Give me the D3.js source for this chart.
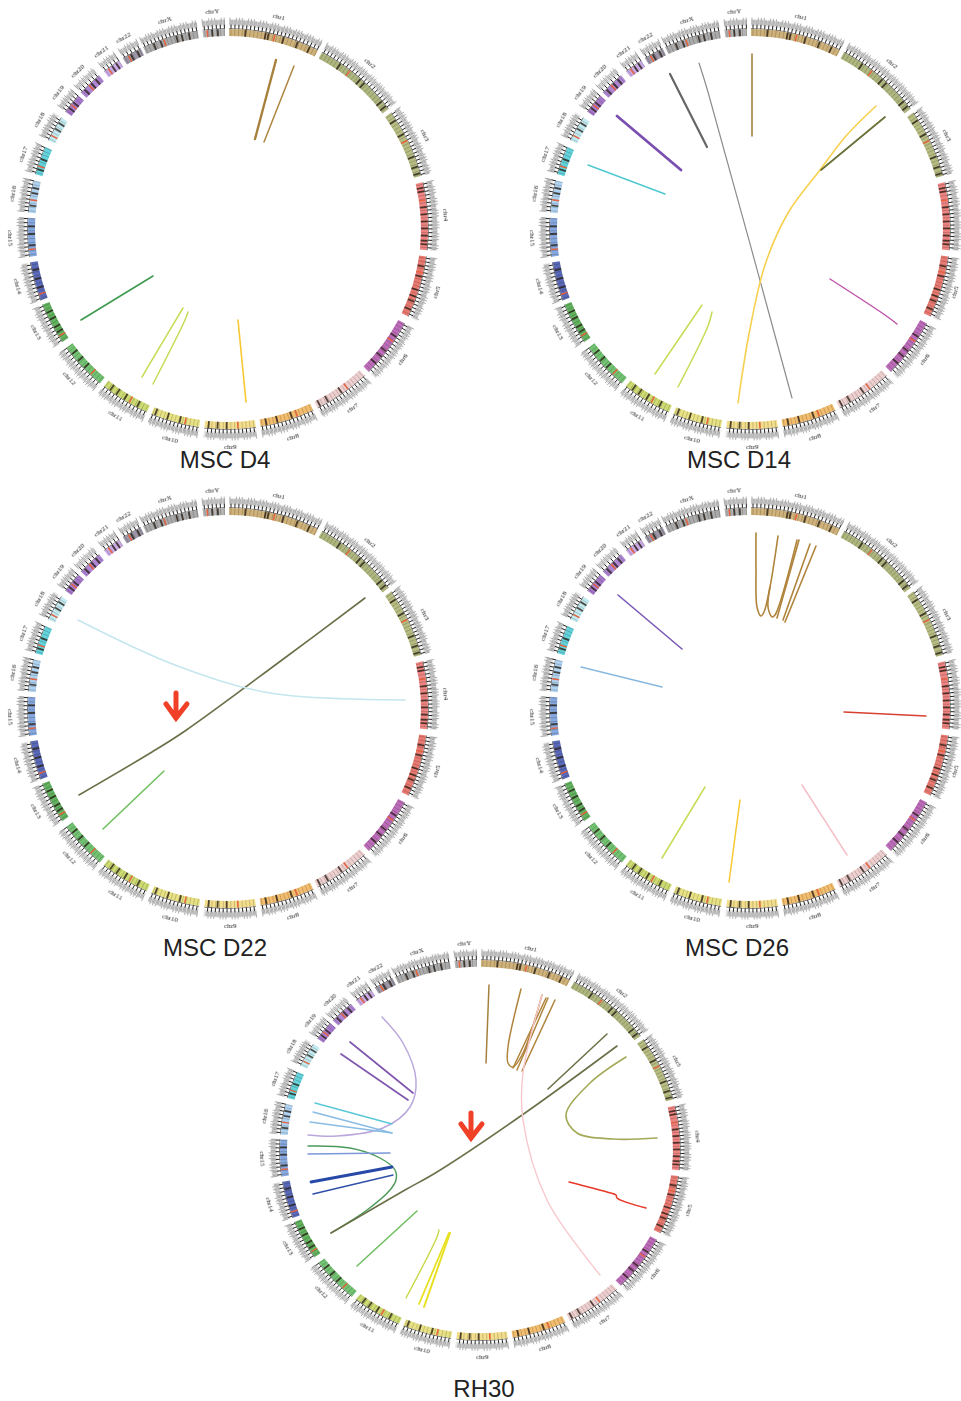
<!DOCTYPE html>
<html>
<head>
<meta charset="utf-8">
<script src="https://cdn.jsdelivr.net/npm/d3@7"></script>
<style>
  body { margin: 0; background: #fff; }
  .chr-label { font-family: "Liberation Serif", serif; font-size: 7px; fill: #222; text-anchor: middle; dominant-baseline: middle; }
  .title { font-family: "Liberation Sans", Arial, sans-serif; font-size: 24px; fill: #222; text-anchor: middle; }
  .link { fill: none; stroke-linecap: round; stroke-linejoin: round; }
</style>
</head>
<body>
<svg id="svg1" width="961" height="1401"></svg>
<script>
const svg1 = d3.select('#svg1');
const width = +svg1.attr('width');

// chromosomes: name, size in Mb, centromere in Mb
const chrNames = ['chr1','chr2','chr3','chr4','chr5','chr6','chr7','chr8','chr9','chr10','chr11','chr12','chr13','chr14','chr15','chr16','chr17','chr18','chr19','chr20','chr21','chr22','chrX','chrY'];
const chrSizes = [249,243,198,191,181,171,159,146,141,135,135,133,115,107,102,90,81,78,59,63,48,51,155,59];
const chrCentro = [125,93,91,50,48,61,60,45,49,40,54,35,18,17,19,36,24,17,26,28,13,15,60,12];
// where each chromosome starts and ends on the circle, degrees clockwise from the top
const chrStartDeg = [0.3,28,54.5,76.5,97.9,118.1,137,154.8,172,188.3,203.9,219.7,235.7,249.1,262,274.7,285.9,296.3,305.8,312.8,321.8,328.4,335,352.7];
const chrEndDeg = [26.7,53.2,74.6,96.1,115.9,135.4,153.4,170.6,186.8,202.5,218.3,233.7,247.8,260.4,273.2,284,294.2,303.8,311.7,320,327.1,334.2,351.3,359.1];
// dark cytobands, Mb
const chrDark = [[45,100,108,150,190,225],[60,130,145,215,232],[25,70,140,170,190],[15,25,70,90,110,130,150,165,175],[30,60,100,120,135,160],[45,95,115,140],[80,125,150],[60,100,130],[80,105,130],[55,90,125],[30,70,95,115],[60,85,110],[30,45,70,90],[35,60,85],[30,60,80],[20,55,70],[15,45],[40,60],[15,35],[12,35,50],[25,38],[22,40],[30,50,95,110,130],[25,40]];

const chrColours = ['#cfb27a','#aeb67e','#b6bc82','#ee8482','#e87a72','#bc6cb8','#eecfcf','#f2bd6e','#f3de8c','#e8e284','#cddb72','#72c272','#62b260','#5a6ab8','#86a8de','#aed2f0','#64d2da','#c2eaf0','#a678ca','#ae86d4','#caaae4','#9c96a6','#ababab','#b4b4b4'];
const ideogramTick = 10.5; // Mb between gene label clumps

// links: each path is a list of [x, y] offsets from the circle centre
const linksD4 = [
  [[48,-169],[27,-90]],
  [[66,-163],[36,-87]],
  [[-75,47],[-147,91]],
  [[-45,79],[-76,131],[-86,148]],
  [[-40,83],[-43,91],[-75,155]],
  [[10,91],[18,173]]
];
const linksD14 = [
  [[2,-175],[2,-93]],
  [[-51,-166],[-42,-137],[42,169]],
  [[-80,-155],[-43,-82]],
  [[-133,-113],[-69,-59]],
  [[-162,-64],[-85,-35]],
  [[126,-123],[96,-93],[70,-59],[38,-16],[15,36],[-1,105],[-12,174]],
  [[135,-112],[71,-59]],
  [[80,50],[135,86],[147,95]],
  [[-48,76],[-95,145]],
  [[-38,83],[-42,97],[-72,158]]
];
const linksD22 = [
  [[137,-110],[54,-48],[-43,23],[-76,44],[-149,87]],
  [[-150,-88],[-53,-43],[42,-15],[177,-8]],
  [[-64,63],[-125,121]]
];
const linksD26 = [
  [[6,-175],[6,-138],[7,-101],[11,-92],[14,-96],[20,-121],[28,-172]],
  [[20,-121],[18,-101],[22,-91],[25,-93],[47,-168]],
  [[27,-90],[49,-168]],
  [[33,-88],[60,-164]],
  [[35,-86],[66,-162]],
  [[-132,-113],[-68,-59]],
  [[-169,-41],[-88,-21]],
  [[94,4],[176,8]],
  [[52,77],[97,147]],
  [[-45,79],[-88,150]],
  [[-10,92],[-21,174]]
];
const linksRH30 = [
  [[-98,-130],[-77,-104],[-64,-67],[-70,-40],[-97,-19],[-143,-11],[-172,-12]],
  [[-130,-105],[-67,-54]],
  [[-139,-93],[-72,-47]],
  [[-165,-44],[-88,-23]],
  [[-167,-35],[-88,-14]],
  [[-170,-25],[-88,-14]],
  [[-172,-1],[-130,1],[-100,11],[-85,23],[-84,33],[-90,43],[-113,63],[-149,86]],
  [[-172,7],[-90,6]],
  [[-169,35],[-88,20]],
  [[-167,47],[-87,28]],
  [[-149,86],[-75,43],[-43,25],[45,-34],[137,-101]],
  [[9,-162],[6,-84]],
  [[41,-158],[28,-100],[28,-84],[33,-80],[43,-94],[62,-152]],
  [[68,-149],[37,-77]],
  [[66,-149],[33,-79]],
  [[75,-147],[42,-76]],
  [[127,-113],[68,-58]],
  [[146,-90],[110,-64],[86,-32],[97,-14],[133,-8],[177,-9]],
  [[62,-152],[43,-74],[43,-27],[67,53],[120,128]],
  [[89,35],[127,45],[136,48],[137,51],[166,61]],
  [[-63,64],[-123,119]],
  [[-41,83],[-43,90],[-74,151]],
  [[-31,86],[-61,157]],
  [[-30,86],[-56,160]]
];

// styles for the links, same order as above
const stylesD4 = [['#a8803c',2.4],['#ad8540',1.5],['#3f9a50',1.6],['#c6dc55',1.5],['#c6dc55',1.5],['#f8c830',1.6]];
const stylesD14 = [['#9a7a30',1.5],['#8c8c8c',1.2],['#666666',2.2],['#7a50b0',2.8],['#50c8d0',1.4],['#f8d050',1.6],['#6a7038',1.8],['#c050a8',1.4],['#c6dc55',1.5],['#c6dc55',1.5]];
const stylesD22 = [['#6a7048',1.6],['#c4e6ee',1.5],['#70c060',1.6]];
const stylesD26 = [['#b0843c',1.6],['#b0843c',1.6],['#b0843c',1.6],['#b0843c',1.6],['#b0843c',1.6],['#7a58b8',1.6],['#88b8e0',1.4],['#d84030',1.4],['#f5c0c8',1.5],['#c6dc55',1.5],['#f8c830',1.5]];
const stylesRH30 = [['#baa8dc',1.5],['#8058b0',1.7],['#8058b0',1.7],['#58c8d8',1.3],['#88bce4',1.3],['#88bce4',1.3],['#4a9a58',1.4],['#7c98d8',1.6],['#2848a8',2.8],['#3050a8',1.4],['#6a7048',1.6],['#a5803c',1.5],['#b0843c',1.5],['#b0843c',1.5],['#b0843c',1.5],['#b0843c',1.5],['#6e7248',1.6],['#a4aa58',1.6],['#f8c8cc',1.4],['#e83828',1.5],['#70c060',1.6],['#c8d848',1.4],['#e8e020',1.8],['#e8e020',2]];

const panels = [
  { title: 'MSC D4', cx: 228, cy: 229, ringCy: 229, sy: 1, tx: 225, ty: 468, links: linksD4, styles: stylesD4, arrow: null },
  { title: 'MSC D14', cx: 750, cy: 229, ringCy: 229, sy: 1, tx: 739, ty: 468, links: linksD14, styles: stylesD14, arrow: null },
  { title: 'MSC D22', cx: 228, cy: 708, ringCy: 708, sy: 1, tx: 215, ty: 956, links: linksD22, styles: stylesD22, arrow: [-52,15] },
  { title: 'MSC D26', cx: 750, cy: 708, ringCy: 708, sy: 1, tx: 737, ty: 956, links: linksD26, styles: stylesD26, arrow: null },
  { title: 'RH30', cx: 480, cy: 1147, ringCy: 1150, sy: 0.95, tx: 484, ty: 1397, links: linksRH30, styles: stylesRH30, arrow: [-9,-4] }
];

// genome position -> angle on the circle
const angleScales = chrSizes.map((s, i) => d3.scaleLinear()
  .domain([0, s])
  .range([chrStartDeg[i], chrEndDeg[i]]));

const rad = d => d * Math.PI / 180;
const bandInner = 193, bandOuter = 200, labelR = 218;
const arc = d3.arc();

const radial = (deg, r0, r1) => {
  const a = rad(deg);
  return `M${r0 * Math.sin(a)},${-r0 * Math.cos(a)}L${r1 * Math.sin(a)},${-r1 * Math.cos(a)}`;
};

const defs = svg1.append('defs');
defs.append('filter').attr('id', 'soft').append('feGaussianBlur').attr('stdDeviation', 0.55);
defs.append('filter').attr('id', 'softer').append('feGaussianBlur').attr('stdDeviation', 0.3);

const drawRing = (g, p) => {
  chrNames.forEach((name, i) => {
    const angle = angleScales[i];
    const chr = g.append('g').attr('class', name).attr('filter', 'url(#soft)');
    const sector = (a0, a1, r0, r1) => arc({ innerRadius: r0, outerRadius: r1, startAngle: rad(a0), endAngle: rad(a1) });
    const s0 = angle(0), s1 = angle(chrSizes[i]);

    const tickVals = d3.range(ideogramTick / 2, chrSizes[i], ideogramTick);

    // gene labels are too small to read, they show as grey clumps
    chr.append('path').attr('d', sector(s0, s1, 203, 210)).attr('fill', '#e6e6e6');
    const grey = chr.append('g').attr('stroke', '#9c9c9c').attr('stroke-width', 0.8);
    tickVals.forEach((t, k) => {
      [-3, 0, 3].forEach((o, j) => {
        const long = (k + j) % 3 === 0 ? 211.5 : 209;
        grey.append('path').attr('d', radial(angle(Math.max(0.5, Math.min(chrSizes[i] - 0.5, t + o))), 204.5, long));
      });
    });
    const black = chr.append('g').attr('stroke', '#222').attr('stroke-width', 1.0);
    tickVals.forEach(t => black.append('path').attr('d', radial(angle(t), 200, 204.5)));
    chr.append('path').attr('d', sector(s0, s1, bandOuter, bandOuter + 0.8)).attr('fill', '#666');

    // ideogram
    chr.append('path').attr('d', sector(s0, s1, bandInner, bandOuter)).attr('fill', chrColours[i]);
    const seps = chr.append('g').attr('stroke', '#000').attr('stroke-opacity', 0.22).attr('stroke-width', 0.8);
    tickVals.forEach(t => seps.append('path').attr('d', radial(angle(t), bandInner, bandOuter)));

    chrDark[i].forEach(b => {
      chr.append('path')
        .attr('d', sector(angle(b - 2.5), angle(b + 2.5), bandInner, bandOuter))
        .attr('fill', '#2a2018').attr('fill-opacity', 0.8);
    });
    chr.append('path')
      .attr('d', sector(angle(chrCentro[i] - 2), angle(chrCentro[i] + 2), bandInner, bandOuter))
      .attr('fill', '#e8623c');

    // chromosome name follows the circle
    const mid = angle(chrSizes[i] / 2);
    const rot = (mid < 90 || mid > 270) ? mid : mid - 180;
    const a = rad(mid);
    const lx = labelR * Math.sin(a);
    // the picture is cropped on the right, names past the edge are not seen
    if (p.cx + lx < width - 2) {
      g.append('text')
        .attr('class', 'chr-label')
        .attr('transform', `translate(${Math.min(lx, width - 6 - p.cx)},${-labelR * Math.cos(a)}) rotate(${rot})`)
        .attr('filter', 'url(#softer)')
        .text(name);
    }
  });
};

panels.forEach(p => {
  const xScale = d3.scaleLinear().domain([-200, 200]).range([p.cx - 200, p.cx + 200]);
  const yScale = d3.scaleLinear().domain([-200, 200]).range([p.cy - 200, p.cy + 200]);

  const ring = svg1.append('g')
    .attr('transform', `translate(${p.cx},${p.ringCy}) scale(1,${p.sy})`);
  drawRing(ring, p);

  const lineGenerator = d3.line()
    .x(d => xScale(d[0]))
    .y(d => yScale(d[1]))
    .curve(d3.curveCatmullRom.alpha(0.5));

  svg1.append('g').attr('filter', 'url(#softer)')
    .selectAll('.link').data(p.links)
    .enter().append('path')
      .attr('class', 'link')
      .attr('d', d => lineGenerator(d))
      .attr('stroke', (d, i) => p.styles[i][0])
      .attr('stroke-width', (d, i) => p.styles[i][1]);

  if (p.arrow) {
    const tx = xScale(p.arrow[0]), ty = yScale(p.arrow[1]);
    svg1.append('path')
      .attr('d', `M${tx},${ty - 30}L${tx},${ty - 5}M${tx - 10},${ty - 19}L${tx},${ty - 5}L${tx + 11},${ty - 19}`)
      .attr('fill', 'none')
      .attr('stroke', '#f04028')
      .attr('stroke-width', 5)
      .attr('stroke-linecap', 'round')
      .attr('stroke-linejoin', 'miter');
  }

  svg1.append('text')
    .attr('class', 'title')
    .attr('x', p.tx)
    .attr('y', p.ty)
    .text(p.title);
});
</script>
</body>
</html>
